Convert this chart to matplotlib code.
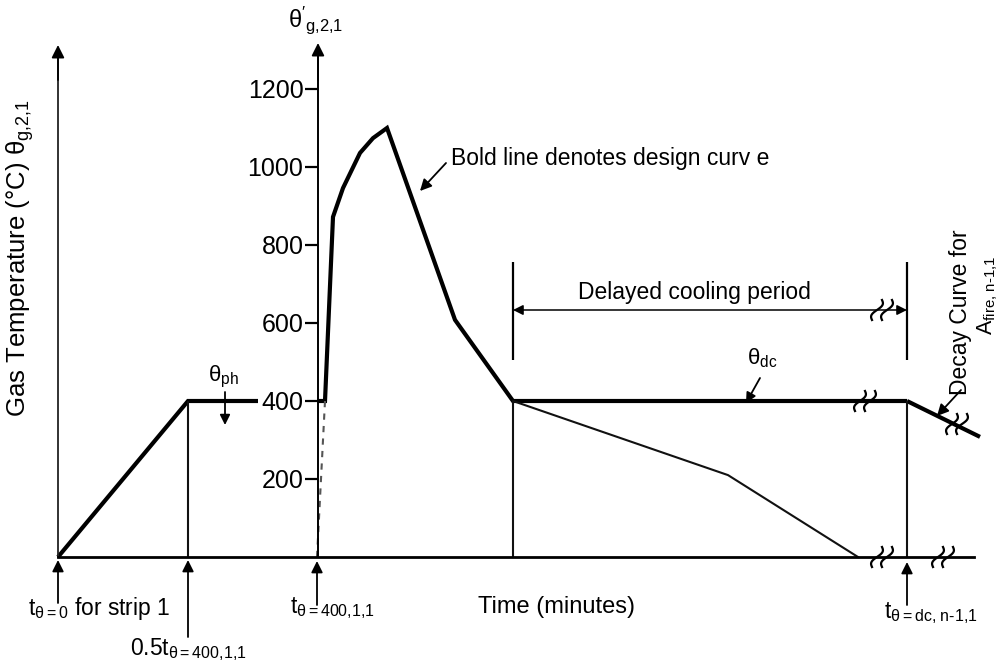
import numpy as np
import matplotlib
matplotlib.use("Agg")
import matplotlib.pyplot as plt

plt.rcParams['font.family'] = ['Liberation Sans', 'DejaVu Sans']
plt.rcParams['mathtext.fontset'] = 'custom'
plt.rcParams['mathtext.rm'] = 'Liberation Sans'
plt.rcParams['mathtext.it'] = 'Liberation Sans'
plt.rcParams['mathtext.default'] = 'regular'

# schematic time positions (arbitrary units) and gas temperatures (deg C)
preheat_t = [58, 188, 258]
preheat_T = [0, 400, 400]

design_t = [318, 325, 333, 343, 360, 373, 387, 455, 513, 868]
design_T = [400, 400, 872, 946, 1036, 1074, 1100, 608, 400, 400]

plateau_t = [868, 907]
plateau_T = [400, 400]

decay_next_t = [907, 980]
decay_next_T = [400, 308]

cooling_t = [513, 728, 858]
cooling_T = [400, 210, 0]

dashed_t = [325, 322, 319, 317]
dashed_T = [400, 250, 100, 0]

temp_ticks = [200, 400, 600, 800, 1000, 1200]

# vertical reference lines: time, top temperature
ref_t = [188, 513, 907]
ref_T = [400, 400, 400]

T0_PIX = 557      # pixel row of 0 deg C
PIX_PER_DEG = 0.39

fig = plt.figure(figsize=(10.05, 6.66), dpi=100)
ax = fig.add_axes([0, 0, 1, 1])
ax.set_xlim(0, 1005)
ax.set_ylim(-(666 - T0_PIX) / PIX_PER_DEG, T0_PIX / PIX_PER_DEG)
ax.patch.set_alpha(0)

for s in ['top', 'right']:
    ax.spines[s].set_visible(False)
ax.spines['left'].set_position(('data', 318))
ax.spines['left'].set_bounds(0, 1290)
ax.spines['left'].set_linewidth(1.4)
ax.spines['bottom'].set_position(('data', 0))
ax.spines['bottom'].set_bounds(58, 974)
ax.spines['bottom'].set_linewidth(2.0)
ax.set_xticks([])
ax.set_yticks(temp_ticks)
ax.set_yticklabels([str(v) for v in temp_ticks])
ax.tick_params(axis='y', direction='out', length=9.5, width=1.6, labelsize=18, pad=1)

bold = dict(color='black', lw=3.0, solid_joinstyle='miter', solid_capstyle='butt')
thin = dict(color='#111111', lw=1.5)

ax.plot(preheat_t, preheat_T, **bold)
ax.plot(design_t, design_T, **bold)
ax.plot(plateau_t, plateau_T, **bold)
ax.plot(decay_next_t, decay_next_T, **bold)
ax.plot(cooling_t, cooling_T, **thin)
ax.plot(dashed_t, dashed_T, color='#555555', lw=1.5, ls=(0, (3, 3)))
ax.vlines(ref_t, 0, ref_T, **thin)
# left time-origin axis
ax.plot([58, 58], [0, 1280], color='#222222', lw=1.3)

# overlay in pixel coordinates for labels and arrows
lay = fig.add_axes([0, 0, 1, 1])
lay.set_xlim(0, 1005)
lay.set_ylim(666, 0)
lay.axis('off')
lay.patch.set_alpha(0)

def arrow(x0, y0, x1, y1, lw=1.3, ms=17):
    lay.annotate('', xy=(x1, y1), xytext=(x0, y0),
                 arrowprops=dict(arrowstyle='-|>', color='black', lw=lw,
                                 mutation_scale=ms, shrinkA=0, shrinkB=0))

def break_mark(x, y):
    s = np.linspace(-1, 1, 30)
    for dx in (-5, 5):
        lay.plot(x + dx + 5 * s + 3 * np.sin(np.pi * s), y - 10 * s, color='black', lw=1.6)

# axis arrows
arrow(58, 80, 58, 45, ms=19)
arrow(318, 80, 318, 43, ms=19)

# axis titles
lay.text(20, 258, 'Gas Temperature (°C) $θ_{g{,}2{,}1}$', rotation=90, ha='center', va='center', fontsize=18.5)
lay.text(316, 20, "$θ'_{g{,}2{,}1}$", ha='center', va='center', fontsize=17)
lay.text(557, 607, 'Time (minutes)', ha='center', va='center', fontsize=17)

# annotations on the curves
lay.text(451, 158, 'Bold line denotes design curv e', ha='left', va='center', fontsize=16.5)
arrow(446, 163, 420, 191)

lay.text(223, 377, '$θ_{ph}$', ha='center', va='center', fontsize=16)
arrow(225, 392, 225, 425, ms=15)

lay.text(762, 358, '$θ_{dc}$', ha='center', va='center', fontsize=16)
arrow(760, 378, 746, 403, ms=15)

# delayed cooling period span
lay.vlines([513, 907], 262, 360, color='black', lw=1.6)
lay.annotate('', xy=(513, 310), xytext=(907, 310),
             arrowprops=dict(arrowstyle='<|-|>', color='black', lw=1.1,
                             mutation_scale=15, shrinkA=0, shrinkB=0))
lay.text(694, 292, 'Delayed cooling period', ha='center', va='center', fontsize=16.5)

# decay curve of the next fire
lay.text(960, 312, 'Decay Curve for', rotation=90, ha='center', va='center', fontsize=16.5)
lay.text(988, 295, '$A_{fire{,}\\ n‐1{,}1}$', rotation=90, ha='center', va='center', fontsize=15.5)
arrow(961, 390, 937, 416)

# break symbols
for bx, by in [(865, 401), (882, 310), (882, 557), (943, 557), (957, 424)]:
    break_mark(bx, by)

# time markers below the axis
arrow(58, 603, 58, 560)
arrow(188, 637, 188, 560)
arrow(317, 605, 317, 561)
arrow(907, 605, 907, 562)

lay.text(28, 608, '$t_{θ=0}$ for strip 1', ha='left', va='center', fontsize=16.5)
lay.text(188, 650, '$0.5t_{θ = 400{,}1{,}1}$', ha='center', va='center', fontsize=16.5)
lay.text(332, 608, '$t_{θ = 400{,}1{,}1}$', ha='center', va='center', fontsize=16.5)
lay.text(931, 613, '$t_{θ = dc{,}\\ n‐1{,}1}$', ha='center', va='center', fontsize=16.5)

fig.savefig('out.png', dpi=100)
